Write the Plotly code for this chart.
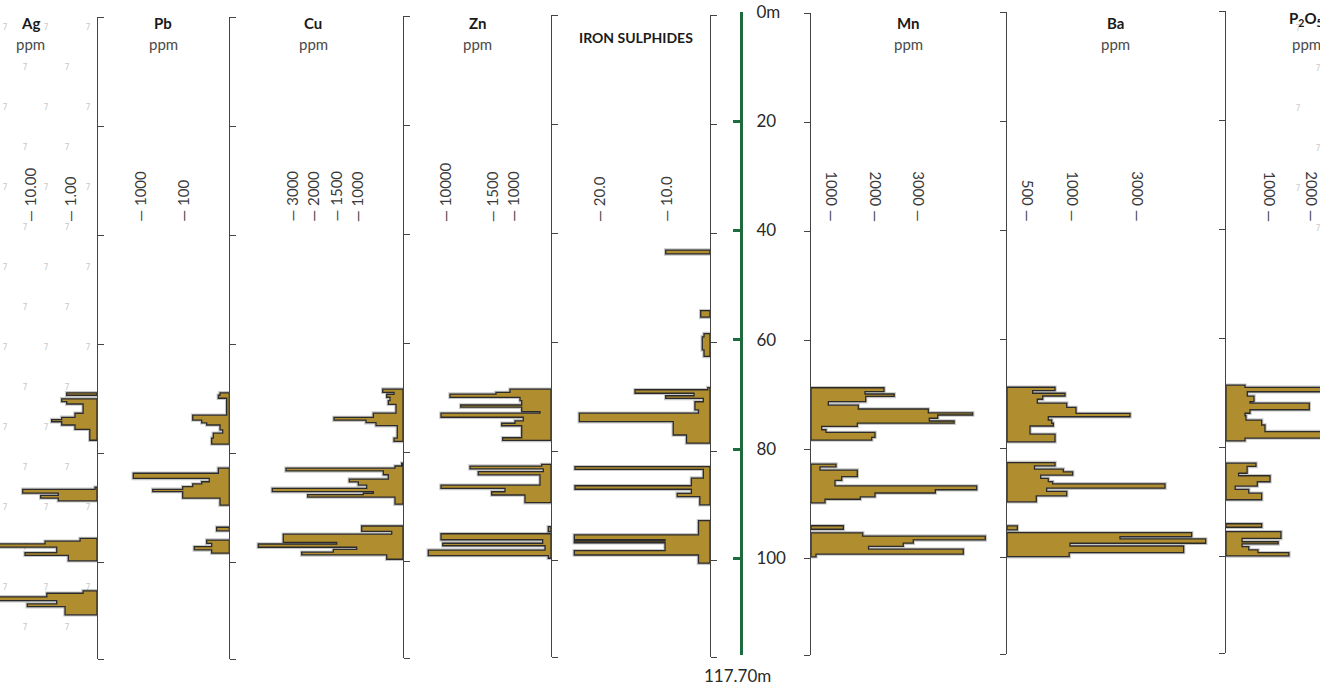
import numpy as np
import plotly.graph_objects as go

W, H = 1320, 685

# ---------------- DATA: interval boundaries (m) and value per interval (0 = gap) -------------
AG_DEPTH = [68.9, 69.35, 70.0, 70.5, 70.95, 72.65, 73.4, 73.8, 74.2, 74.8, 75.6, 77.6,
            86.2, 86.6, 87.3, 87.7, 88.2, 88.7,
            95.6, 96.1, 96.6, 97.2, 98.2, 98.7, 99.7,
            105.2, 105.65, 106.3, 107.0, 107.6, 108.1, 109.6]
AG_PPM = [1.21, 0, 1.61, 1.21, 0.47, 0.75, 1.61, 2.87, 1.61, 0.75, 0.32, 0,
          0.237, 15.2, 1.96, 5.4, 1.96, 0,
          0.56, 4.2, 70, 2.15, 13.3, 1.1, 0,
          0.47, 3.8, 70, 2.15, 11.7, 1.33]

PB_DEPTH = [68.9, 69.35, 69.9, 73.0, 73.9, 74.4, 74.8, 75.7, 76.3, 77.2, 78.3,
            82.7, 83.65, 84.6, 85.2, 85.6, 86.1, 86.6, 87.0, 88.2, 89.5,
            93.55, 94.2, 95.9, 96.5, 97.1, 97.7, 98.3]
PB_PPM = [13.8, 15.1, 9.7, 58.8, 36.5, 28, 13.8, 12, 19.7, 21.5, 0,
          15.1, 1375, 24.4, 36.5, 58.8, 100, 490, 100, 13.8, 0,
          16.5, 0, 28, 21.5, 54, 21.5]

CU_DEPTH = [68.4, 69.0, 69.35, 69.9, 70.5, 71.2, 72.8, 73.6, 74.1, 74.55, 75.1, 77.4, 78.0,
            82.0, 82.5, 82.9, 83.4, 84.1, 84.9, 85.4, 86.0, 86.6, 87.2, 87.5, 87.75, 88.2, 89.5,
            93.5, 94.5, 95.0, 96.5, 96.8, 97.4, 97.8, 98.3, 98.8, 99.6]
CU_PPM = [438, 194, 352, 281, 317, 151, 641, 1522, 799, 583, 123, 194, 0,
          28, 173, 3235, 425, 317, 1170, 965, 784, 3878, 641, 857, 2216, 173, 0,
          892, 244, 3362, 1461, 4535, 1000, 1537, 2498, 352]

ZN_DEPTH = [68.6, 69.2, 69.5, 70.1, 70.7, 71.5, 71.9, 72.7, 73.0, 73.75, 74.4, 74.85, 75.3, 77.5, 78.0,
            82.4, 82.7, 83.2, 83.7, 84.3, 86.2, 86.8, 87.4, 88.0, 89.4,
            93.8, 94.7, 95.1, 96.2, 96.85, 97.3, 98.1, 99.1, 99.6]
ZN_PPM = [1056, 1396, 9090, 801, 757, 7142, 757, 284, 10728, 716, 930, 1257, 757, 1233, 0,
          240, 5450, 199, 3939, 284, 10728, 1178, 1500, 672, 0,
          70, 0, 10728, 215, 10412, 155, 13040, 70]

FES_DEPTH = [43.1, 43.8, 54.2, 55.4, 58.4, 59.0, 61.4, 62.6,
             68.3, 68.7, 69.35, 69.8, 70.3, 70.9, 72.4, 73.0, 74.55, 77.0, 78.5,
             82.8, 83.3, 84.9, 86.3, 86.95, 87.7, 88.3, 89.8,
             92.7, 95.3, 96.2, 96.45, 96.75, 98.2, 99.0, 100.5]
FES_PCT = [10.0, 0, 2.1, 0, 1.35, 1.74, 1.35, 0,
           0.5, 14.6, 3.6, 10.0, 1.5, 3.4, 2.6, 22.95, 8.3, 5.3, 0,
           23.6, 1.5, 4.2, 23.6, 4.2, 7.4, 2.3, 0,
           2.6, 23.7, 10.1, 23.7, 10.1, 23.7, 2.6]

MN_DEPTH = [68.7, 69.4, 69.85, 70.3, 71.25, 71.9, 72.6, 73.3, 73.7, 74.3, 74.8, 75.2, 75.8, 76.4, 76.9, 77.8, 78.3,
            82.7, 83.2, 83.8, 85.0, 85.7, 86.7, 87.4, 88.0, 88.7, 89.15, 89.8,
            94.0, 94.65, 95.3, 95.9, 96.6, 97.2, 97.8, 98.3, 99.2, 99.7]
MN_PPM = [2185, 1748, 2420, 1764, 813, 1595, 3208, 4233, 3425, 3231, 3804, 1572, 502, 704, 1977, 1902, 0,
          1085, 423, 1572, 1215, 1062, 4325, 3370, 1977, 1640, 657, 0,
          1252, 0, 1696, 4524, 2861, 2630, 1830, 4016, 235]

BA_DEPTH = [68.8, 69.4, 69.9, 70.4, 71.0, 71.7, 72.5, 73.6, 74.2, 74.8, 75.4, 75.9, 77.4, 78.8,
            82.6, 83.2, 83.8, 84.3, 84.9, 85.5, 86.1, 86.5, 87.3, 87.9, 88.7, 89.8,
            94.2, 94.95, 95.45, 96.2, 96.6, 97.4, 97.9, 99.1, 99.85]
BA_PPM = [797, 548, 908, 660, 600, 927, 1083, 2745, 722, 760, 778, 519, 797, 0,
          797, 569, 889, 993, 638, 722, 771, 3821, 704, 927, 589, 0,
          242, 0, 4642, 2437, 5074, 963, 4394, 954]

P2O5_DEPTH = [68.6, 69.0, 69.8, 70.6, 71.6, 71.9, 73.1, 73.75, 74.2, 75.0, 75.9, 77.1, 78.3, 78.8,
              82.9, 83.5, 84.75, 85.2, 86.3, 87.1, 87.7, 88.4, 89.6,
              94.0, 94.65, 95.45, 96.7, 97.3, 97.7, 98.2, 98.8, 99.3, 99.9]
P2O5_PPM = [432, 2300, 484, 636, 545, 1928, 545, 432, 454, 811, 886, 2300, 432, 0,
            681, 480, 286, 1000, 711, 209, 517, 811, 0,
            811, 0, 1259, 365, 1193, 365, 517, 727, 1446]

DEPTH_TICKS = [0, 20, 40, 60, 80, 100]
DEPTH_TICK_TEXT = ["0m", "20", "40", "60", "80", "100"]
TOTAL_DEPTH = 117.7

# ---------------- styling / scales ----------------
GOLD = "#b08d2f"
OUTLINE = "#2b2b2b"
AXIS = "#444444"
GREEN = "#1d6b3f"
FONT = "Lato"


def make_scale(vals, offs, log=False):
    v = np.log10(np.asarray(vals, float)) if log else np.asarray(vals, float)
    o = np.asarray(offs, float)
    slope = (o[-1] - o[-2]) / (v[-1] - v[-2])

    def f(x):
        x = np.asarray(x, float)
        if log:
            x = np.log10(np.clip(x, 1e-12, None))
        y = np.interp(x, v, o)
        return np.where(x > v[-1], o[-1] + (x - v[-1]) * slope, y)
    return f


TRACKS = [
    dict(title="<b>Ag</b>", unit="ppm", tx=30, ty=23, depth=AG_DEPTH, vals=AG_PPM, side="L", a=0, b=97,
         top=17, bot=659, scale=make_scale([0.2113, 1, 10], [0, 27, 67], log=True),
         ticks=[(10, "10.00"), (1, "1.00")]),
    dict(title="<b>Pb</b>", unit="ppm", tx=163, ty=23, depth=PB_DEPTH, vals=PB_PPM, side="L", a=97, b=229.3,
         top=17, bot=659, scale=make_scale([8.44, 100, 1000], [0, 46.6, 90], log=True),
         ticks=[(1000, "1000"), (100, "100")]),
    dict(title="<b>Cu</b>", unit="ppm", tx=313, ty=23, depth=CU_DEPTH, vals=CU_PPM, side="L", a=229.3, b=403,
         top=16, bot=658, scale=make_scale([0, 1000, 1500, 2000, 3000], [0, 46.3, 68, 90.7, 112]),
         ticks=[(3000, "3000"), (2000, "2000"), (1500, "1500"), (1000, "1000")]),
    dict(title="<b>Zn</b>", unit="ppm", tx=477, ty=23, depth=ZN_DEPTH, vals=ZN_PPM, side="L", a=403, b=551,
         top=15, bot=657, scale=make_scale([0, 1000, 1500, 10000], [0, 38.7, 59.3, 106]),
         ticks=[(10000, "10000"), (1500, "1500"), (1000, "1000")]),
    dict(title="<b>IRON SULPHIDES</b>", unit=None, tx=636, ty=37, depth=FES_DEPTH, vals=FES_PCT, side="L",
         a=551, b=710, top=15, bot=657, scale=make_scale([0, 10, 20], [0, 44.3, 111]),
         ticks=[(20, "20.0"), (10, "10.0")]),
    dict(title="<b>Mn</b>", unit="ppm", tx=908, ty=23, depth=MN_DEPTH, vals=MN_PPM, side="R", a=811, b=1007,
         top=13, bot=655, scale=make_scale([0, 1000, 2000, 3000], [0, 21.3, 65, 108.3]),
         ticks=[(1000, "1000"), (2000, "2000"), (3000, "3000")]),
    dict(title="<b>Ba</b>", unit="ppm", tx=1115, ty=23, depth=BA_DEPTH, vals=BA_PPM, side="R", a=1007, b=1226,
         top=12, bot=654, scale=make_scale([0, 500, 1000, 3000], [0, 21.3, 66.3, 131.3]),
         ticks=[(500, "500"), (1000, "1000"), (3000, "3000")]),
    dict(title="<b>P<sub>2</sub>O<sub>5</sub></b>", unit="ppm", tx=1306, ty=19, depth=P2O5_DEPTH,
         vals=P2O5_PPM, side="R", a=1226, b=1320, top=11, bot=653,
         scale=make_scale([0, 1000, 2000], [0, 44, 86.3]),
         ticks=[(1000, "1000"), (2000, "2000")]),
]


def outline(depths, vals, scale):
    xs, ys, run = [], [], []

    def flush():
        if not run:
            return
        d_start, d_end = run[0][0], run[-1][1]
        xs.append(0.0)
        ys.append(d_start)
        for d0, d1, v in run:
            off = float(scale(v))
            xs.extend([off, off])
            ys.extend([d0, d1])
        xs.extend([0.0, 0.0, None])
        ys.extend([d_end, d_start, None])
        run.clear()

    for d0, d1, v in zip(depths[:-1], depths[1:], vals):
        if v > 0:
            run.append((d0, d1, v))
        else:
            flush()
    flush()
    return xs, ys


fig = go.Figure()
layout = dict(width=W, height=H, margin=dict(l=0, r=0, t=0, b=0, pad=0, autoexpand=False),
              paper_bgcolor="white", plot_bgcolor="rgba(0,0,0,0)", showlegend=False,
              font=dict(family=FONT, color="#333"))
annotations = []
tick_y = 1 - 224 / H

for i, t in enumerate(TRACKS):
    n = i + 1
    sfx = "" if n == 1 else str(n)
    xr, yr = "x" + sfx, "y" + sfx
    if t["side"] == "L":
        x0, x1 = t["a"], t["b"]
        xrange = [t["b"] - t["a"], 0]
        yside = "right"
    else:
        x0, x1 = t["a"], min(t["b"], W)
        xrange = [0, x1 - t["a"]]
        yside = "left"
    layout["xaxis" + sfx] = dict(domain=[x0 / W, x1 / W], range=xrange, visible=False,
                                 anchor=yr, fixedrange=True, automargin=False)
    layout["yaxis" + sfx] = dict(domain=[1 - t["bot"] / H, 1 - t["top"] / H], range=[TOTAL_DEPTH, 0],
                                 anchor=xr, side=yside, showline=True, linecolor=AXIS, linewidth=1.2,
                                 ticks="outside", ticklen=6, tickwidth=1.2, tickcolor=AXIS,
                                 tickvals=DEPTH_TICKS + [TOTAL_DEPTH], showticklabels=False,
                                 showgrid=False, zeroline=False, fixedrange=True, automargin=False)

    # faint lithology glyph texture
    if n == 1:
        gx, gy = [], []
        for r in range(17):
            py = 28 + 40 * r
            cols = [5, 46, 88] if r % 2 == 0 else [25, 67]
            for px in cols:
                gx.append(t["b"] - px)
                gy.append((py - t["top"]) * TOTAL_DEPTH / (t["bot"] - t["top"]))
        fig.add_trace(go.Scatter(x=gx, y=gy, mode="text", text=["7"] * len(gx),
                                 textfont=dict(family="DejaVu Sans", size=8, color="#c9c9c9"),
                                 hoverinfo="skip", xaxis=xr, yaxis=yr))
    if n == 8:
        gx, gy = [], []
        for r in range(6):
            py = 29 + 40 * r
            px = 1298 if r % 2 == 0 else 1318
            gx.append(px - t["a"])
            gy.append((py - t["top"]) * TOTAL_DEPTH / (t["bot"] - t["top"]))
        fig.add_trace(go.Scatter(x=gx, y=gy, mode="text", text=["7"] * len(gx),
                                 textfont=dict(family="DejaVu Sans", size=8, color="#cdcdcd"),
                                 hoverinfo="skip", xaxis=xr, yaxis=yr))

    xs, ys = outline(t["depth"], t["vals"], t["scale"])
    fig.add_trace(go.Scatter(x=xs, y=ys, mode="lines", line=dict(color="rgba(0,0,0,0.22)", width=3.5),
                             hoverinfo="skip", xaxis=xr, yaxis=yr))
    fig.add_trace(go.Scatter(x=xs, y=ys, mode="lines", fill="toself", fillcolor=GOLD,
                             line=dict(color=OUTLINE, width=1.3), hoverinfo="skip", xaxis=xr, yaxis=yr))

    # titles
    if t["unit"]:
        annotations.append(dict(text=t["title"], x=t["tx"] / W, y=1 - t["ty"] / H, xref="paper", yref="paper",
                                showarrow=False, xanchor="center", yanchor="middle",
                                font=dict(family=FONT, size=15, color="#1a1a1a")))
        annotations.append(dict(text=t["unit"], x=t["tx"] / W, y=1 - 44 / H, xref="paper", yref="paper",
                                showarrow=False, xanchor="center", yanchor="middle",
                                font=dict(family=FONT, size=15, color="#4a4a4a")))
    else:
        annotations.append(dict(text=t["title"], x=t["tx"] / W, y=1 - t["ty"] / H, xref="paper", yref="paper",
                                showarrow=False, xanchor="center", yanchor="middle",
                                font=dict(family=FONT, size=14, color="#1a1a1a")))

    # rotated scale labels
    for val, lab in t["ticks"]:
        xv = float(t["scale"](val))
        if t["side"] == "L":
            txt, ang = "\u2014 " + lab, -90
        else:
            txt, ang = lab + " \u2014", 90
        annotations.append(dict(text=txt, x=xv, xref=xr, y=tick_y, yref="paper", showarrow=False,
                                textangle=ang, xanchor="center", yanchor="bottom",
                                font=dict(family=FONT, size=15, color="#3a3a3a")))

# central depth axis
layout["xaxis9"] = dict(domain=[712 / W, 740 / W], range=[0, 1], visible=False, anchor="y9",
                        fixedrange=True, automargin=False)
layout["yaxis9"] = dict(domain=[1 - 655 / H, 1 - 12 / H], range=[TOTAL_DEPTH, 0], anchor="x9", side="right",
                        showline=True, linecolor=GREEN, linewidth=3, ticks="inside", ticklen=7, tickwidth=3,
                        tickcolor=GREEN, tickvals=DEPTH_TICKS, ticktext=DEPTH_TICK_TEXT,
                        tickfont=dict(family=FONT, size=17, color="#2a2a2a"), ticklabelstandoff=10,
                        showgrid=False, zeroline=False, fixedrange=True, automargin=False)
fig.add_trace(go.Scatter(x=[None], y=[None], xaxis="x9", yaxis="y9", hoverinfo="skip"))
annotations.append(dict(text=f"{TOTAL_DEPTH:.2f}m", x=737 / W, y=1 - 675 / H, xref="paper", yref="paper",
                        showarrow=False, xanchor="center", yanchor="middle",
                        font=dict(family=FONT, size=17, color="#2a2a2a")))

layout["annotations"] = annotations
fig.update_layout(**layout)
fig.write_html("out.html", config={"displayModeBar": False},
               post_script="document.body.style.margin='0';document.body.style.overflow='hidden';")
